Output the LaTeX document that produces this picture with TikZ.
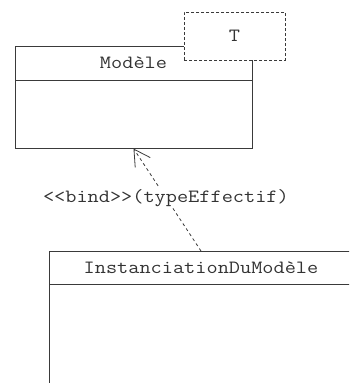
\documentclass[tikz,border=0pt]{standalone}
\usepackage{fontspec}
\setmonofont[FakeStretch=1.16]{Latin Modern Mono}
\usetikzlibrary{arrows.meta}
\definecolor{umlline}{HTML}{3A3A3A}
\definecolor{umltext}{HTML}{333333}
\tikzset{
  umlfont/.style={font=\ttfamily\fontsize{18.7}{20}\selectfont, text=umltext},
  classbox/.style={draw=umlline, line width=1pt, rectangle, inner sep=0pt},
  classname/.style={umlfont, inner sep=0pt},
  tparam/.style={umlfont, draw=umlline, line width=1pt, dash pattern=on 3pt off 2pt, fill=white,
    rectangle, inner sep=0pt, minimum width=101pt, minimum height=48pt},
  bindlink/.style={draw=umlline, line width=0.8pt, dash pattern=on 3pt off 3pt,
    -{Straight Barb[length=16pt,width=18pt,line width=0.8pt]}},
  bindlabel/.style={umlfont, fill=white, inner sep=1pt}
}
\begin{document}
\begin{tikzpicture}[x=1pt,y=-1pt]
  \useasboundingbox (0,0) rectangle (349,383);
  \clip (0,0) rectangle (349,383);
  % template class
  \node[classbox, minimum width=237pt, minimum height=102pt] (model) at (133.5,97) {};
  \draw[umlline, line width=1pt] (15,80) -- (252,80);
  \node[classname] (modelname) at (133.5,63) {Modèle};
  % formal type parameter
  \node[tparam] (param) at (234.5,36) {T};
  % bound class (continues past the edges)
  \node[classbox, minimum width=304pt, minimum height=200pt, anchor=north] (inst) at (201,251) {};
  \draw[umlline, line width=1pt] (49,284) -- (360,284);
  \node[classname] (instname) at (201,268) {InstanciationDuModèle};
  % binding dependency
  \draw[bindlink] (inst.north) -- node[bindlabel, pos=0.52] (bind) {<<bind>>(typeEffectif)} (model.south);
\end{tikzpicture}
\end{document}
